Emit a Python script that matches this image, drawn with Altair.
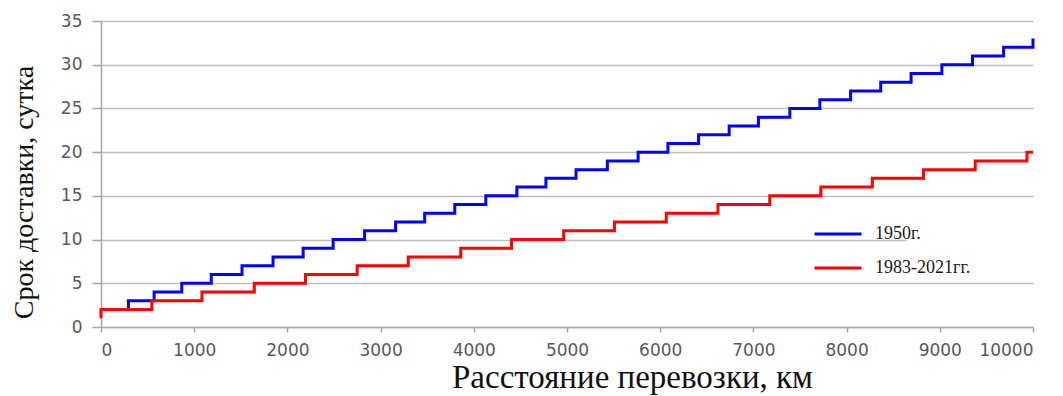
import altair as alt
import pandas as pd

series_names = ["1950г.", "1983-2021гг."]
series_colors = ["#0000ff", "#ff0000"]

blue_km = [0, 294, 570, 867, 1183, 1513, 1846, 2169, 2491, 2828, 3161, 3473, 3796,
           4129, 4462, 4774, 5097, 5433, 5763, 6083, 6412, 6740, 7054, 7391, 7713,
           8043, 8366, 8692, 9022, 9351, 9685, 10000]
blue_days = [2, 3, 4, 5, 6, 7, 8, 9, 10, 11, 12, 13, 14, 15, 16, 17, 18, 19, 20, 21,
             22, 23, 24, 25, 26, 27, 28, 29, 30, 31, 32, 33]

red_km = [0, 0, 545, 1083, 1645, 2194, 2749, 3297, 3860, 4405, 4964, 5509, 6065,
          6620, 7176, 7724, 8276, 8825, 9380, 9935, 10000]
red_days = [1, 2, 3, 4, 5, 6, 7, 8, 9, 10, 11, 12, 13, 14, 15, 16, 17, 18, 19, 20, 20]

x_ticks = [0, 1000, 2000, 3000, 4000, 5000, 6000, 7000, 8000, 9000, 10000]
y_ticks = [0, 5, 10, 15, 20, 25, 30, 35]

rows = []
for i, (x, y) in enumerate(zip(blue_km, blue_days)):
    rows.append({"series": series_names[0], "km": x, "days": y, "i": i})
for i, (x, y) in enumerate(zip(red_km, red_days)):
    rows.append({"series": series_names[1], "km": x, "days": y, "i": i})
df = pd.DataFrame(rows)

lines = alt.Chart(df).mark_line(interpolate="step-after", strokeWidth=3).encode(
    x=alt.X("km:Q",
            scale=alt.Scale(domain=[0, 10000], nice=False),
            axis=alt.Axis(values=x_ticks, title="Расстояние перевозки, км", grid=False,
                          format="d", tickSize=5, labelPadding=10,
                          titleX=531, titleY=60, titleBaseline="alphabetic",
                          titleFontSize=33)),
    y=alt.Y("days:Q",
            scale=alt.Scale(domain=[0, 35], nice=False),
            axis=alt.Axis(values=y_ticks, title="Срок доставки, сутка", grid=True,
                          tickSize=9, labelPadding=10,
                          titleX=-77, titleY=171, titleBaseline="middle",
                          titleAngle=270, titleFontSize=28)),
    color=alt.Color("series:N",
                    scale=alt.Scale(domain=series_names, range=series_colors),
                    legend=alt.Legend(orient="none", legendX=712, legendY=188,
                                      title=None, symbolType="stroke",
                                      symbolSize=2209, symbolStrokeWidth=3,
                                      labelFont="Liberation Serif", labelFontSize=18,
                                      labelColor="#1a1a1a", labelOffset=12,
                                      rowPadding=-13)),
    order="i:Q",
)

# white legend box edge that hides part of the 10-day gridline, as in the reference
gap = alt.Chart(df).mark_rect(color="white", opacity=1).encode(
    x=alt.value(806), x2=alt.value(934), y=alt.value(215), y2=alt.value(222)
)

chart = alt.layer(gap, lines).properties(
    width=932, height=306,
    autosize=alt.AutoSizeParams(type="none"),
    padding={"left": 93, "top": 13, "right": 22, "bottom": 75},
).configure_view(stroke=None).configure_axis(
    labelFont="DejaVu Sans", labelFontSize=17, labelColor="#595959",
    titleFont="Liberation Serif", titleFontWeight="normal", titleColor="#111111",
    domainColor="#a6a6a6", domainWidth=1.5, tickColor="#a6a6a6", tickWidth=1.5,
    gridColor="#c0c0c0", gridWidth=1.5,
)

chart.save("out.html", embed_options={"renderer": "svg", "actions": False})
